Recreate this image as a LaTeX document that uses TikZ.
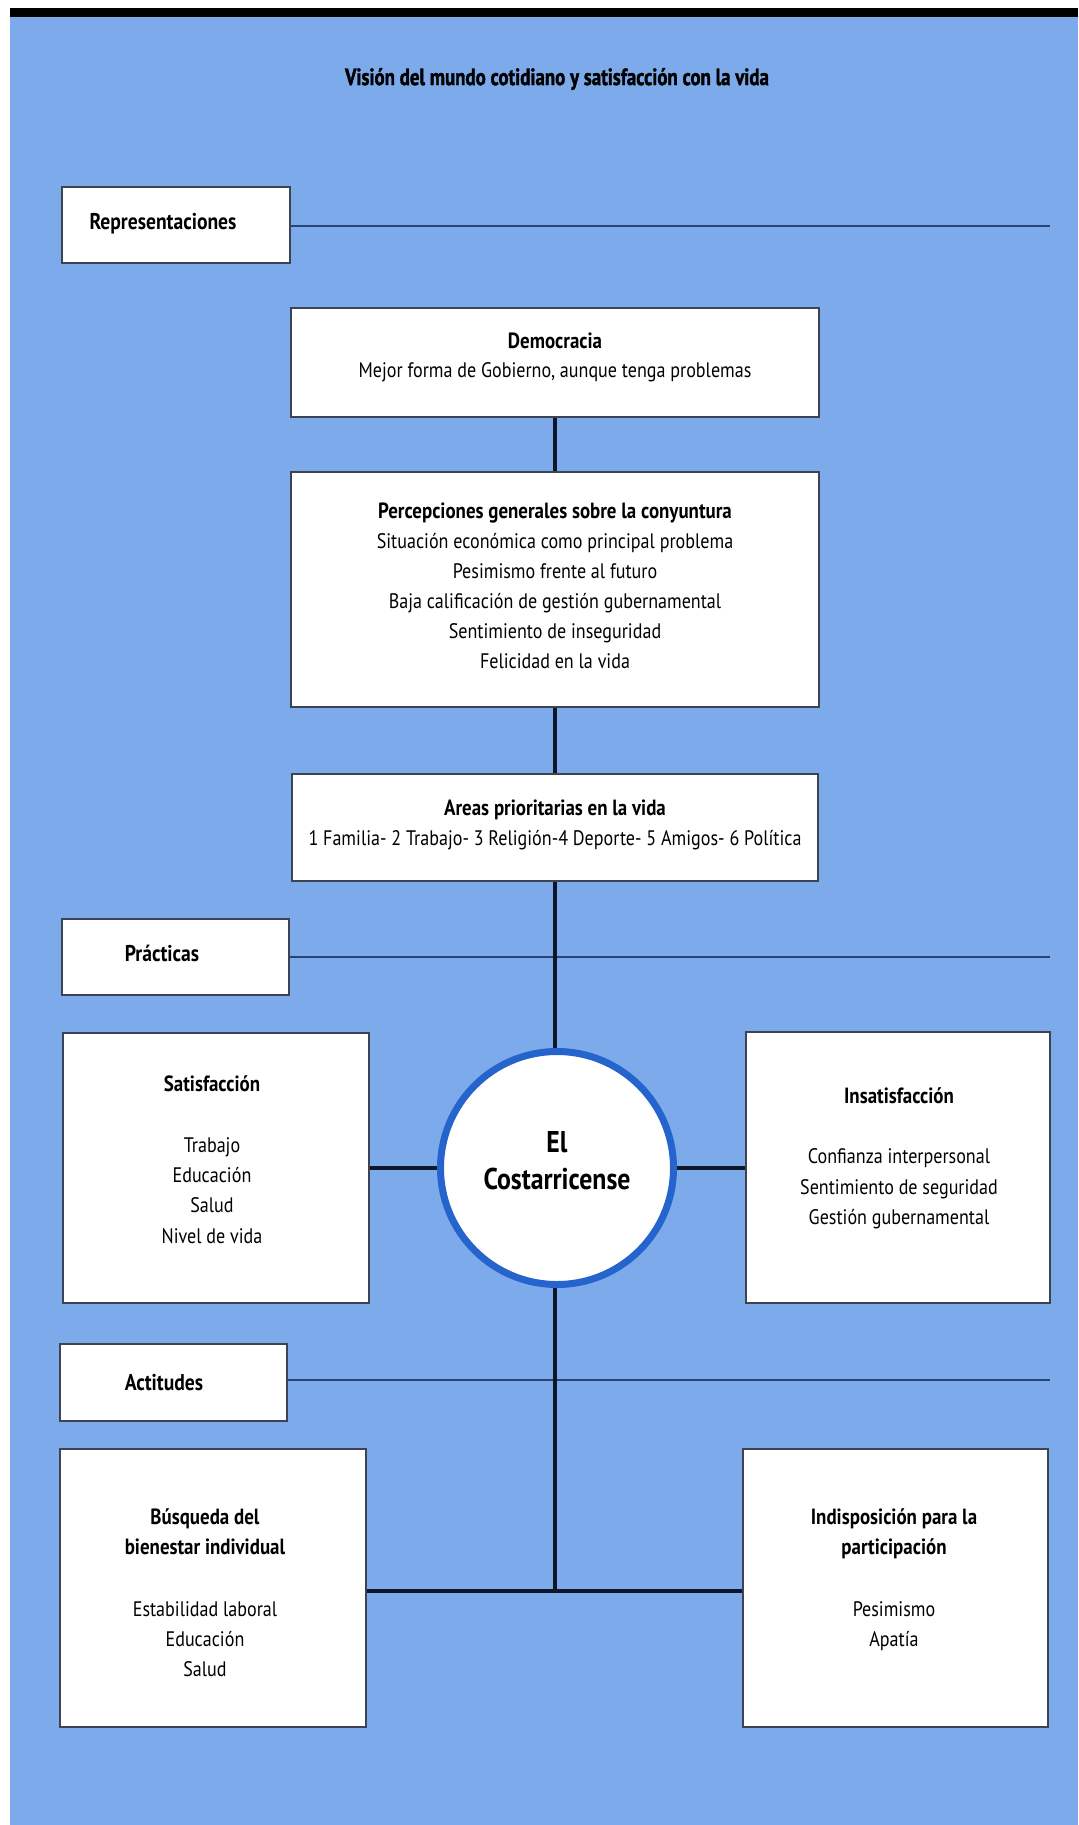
\documentclass[tikz,border=0pt]{standalone}
\usepackage{fontspec}
\setmainfont{PT Sans}[FakeStretch=0.86]
\newfontfamily\titlefont{PT Sans Bold}[FakeStretch=0.8,FakeBold=1.4]
\definecolor{bgblue}{RGB}{124,170,234}
\definecolor{ringblue}{RGB}{38,100,205}
\definecolor{connc}{RGB}{15,22,40}
\definecolor{secc}{RGB}{40,68,115}
\definecolor{boxline}{RGB}{60,68,82}
\newcommand\boxhead[1]{{\fontsize{11}{15}\selectfont\bfseries #1}}
\begin{document}
\begin{tikzpicture}[x=0.5pt,y=-0.5pt,
  box/.style={draw=boxline, line width=1pt, fill=white, inner sep=0pt},
  boxtext/.style={inner sep=0pt, align=center, font=\fontsize{10.5}{15}\selectfont},
  labtext/.style={inner sep=0pt, font=\bfseries\fontsize{11.4}{13}\selectfont},
  conn/.style={draw=connc, line width=2pt},
  secline/.style={draw=secc, line width=0.8pt}]
\useasboundingbox (0,0) rectangle (1078,1825);
\fill[white] (0,0) rectangle (1078,1825);
\fill[bgblue] (10,17) rectangle (1078,1825);
\fill[black] (10,8) rectangle (1078,17);

\node[inner sep=0pt, font=\titlefont\fontsize{11.8}{13}\selectfont] (title) at (557,79)
  {Visión del mundo cotidiano y satisfacción con la vida};

% section labels
\node[box, minimum width=114pt, minimum height=38pt] (rep) at (176,225) {};
\node[labtext] (reptext) at (163,224) {Representaciones};
\node[box, minimum width=113.5pt, minimum height=38pt] (prac) at (175.5,957) {};
\node[labtext] (practext) at (162,953) {Prácticas};
\node[box, minimum width=113.5pt, minimum height=38.5pt] (act) at (173.5,1382.5) {};
\node[labtext] (acttext) at (164,1383) {Actitudes};

\coordinate (repend) at (1050,226);
\coordinate (pracend) at (1050,957);
\coordinate (actend) at (1050,1380);
\draw[secline] (rep.east |- repend) -- (repend);
\draw[secline] (prac.east) -- (pracend);
\draw[secline] (act.east |- actend) -- (actend);

% central column boxes
\node[box, minimum width=264pt, minimum height=54.5pt] (dem) at (555,362.5) {};
\node[boxtext] (demtext) at (555,357)
  {\boxhead{Democracia}\\[-0.5pt]
   Mejor forma de Gobierno, aunque tenga problemas};
\node[box, minimum width=264pt, minimum height=117.5pt] (perc) at (555,589.5) {};
\node[boxtext] (perctext) at (555,586)
  {\boxhead{Percepciones generales sobre la conyuntura}\\
   Situación económica como principal problema\\
   Pesimismo frente al futuro\\
   Baja calificación de gestión gubernamental\\
   Sentimiento de inseguridad\\
   Felicidad en la vida};
\node[box, minimum width=263pt, minimum height=53.5pt] (areas) at (555,827.5) {};
\node[boxtext] (areastext) at (555,825)
  {\boxhead{Areas prioritarias en la vida}\\
   1 Familia- 2 Trabajo- 3 Religión-4 Deporte- 5 Amigos- 6 Política};

% centre
\node[circle, draw=ringblue, line width=3.5pt, fill=white, inner sep=0pt,
  minimum size=116.5pt] (circ) at (557,1168) {};
\node[inner sep=0pt, align=center, font=\bfseries\fontsize{15}{18.5}\selectfont]
  (circtext) at (557,1161) {El\\Costarricense};

% practices
\node[box, minimum width=153pt, minimum height=135pt] (sat) at (216,1168) {};
\node[boxtext] (sattext) at (212,1159.5)
  {\boxhead{Satisfacción}\\[15.5pt]
   Trabajo\\ Educación\\ Salud\\[0.5pt] Nivel de vida};
\node[box, minimum width=152pt, minimum height=135.5pt] (insat) at (898,1167.5) {};
\node[boxtext] (insattext) at (899,1158)
  {\boxhead{Insatisfacción}\\[15pt]
   Confianza interpersonal\\[0.5pt] Sentimiento de seguridad\\ Gestión gubernamental};

% attitudes
\node[box, minimum width=153pt, minimum height=139pt] (bus) at (213,1588) {};
\node[boxtext] (bustext) at (205,1593)
  {\boxhead{Búsqueda del}\\ \boxhead{bienestar individual}\\[16pt]
   Estabilidad laboral\\ Educación\\ Salud};
\node[box, minimum width=152.5pt, minimum height=139pt] (ind) at (895.5,1588) {};
\node[boxtext] (indtext) at (894,1580)
  {\boxhead{Indisposición para la}\\ \boxhead{participación}\\[16pt]
   Pesimismo\\ Apatía};

% connectors
\coordinate (junc) at (555,1591);
\draw[conn] (dem.south) -- (perc.north);
\draw[conn] (perc.south) -- (areas.north);
\draw[conn] (areas.south) -- (areas.south |- circ.north);
\draw[conn] (circ.west) -- (circ.west -| sat.east);
\draw[conn] (circ.east) -- (circ.east -| insat.west);
\draw[conn] (junc |- circ.south) -- (junc);
\draw[conn] (bus.east |- junc) -- (ind.west |- junc);
\end{tikzpicture}
\end{document}
